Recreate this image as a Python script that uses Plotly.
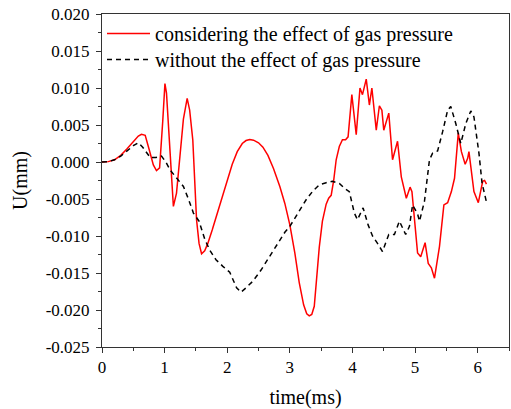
import plotly.graph_objects as go

# time (ms) and displacement (mm)
t_gas = [0, 0.1, 0.2, 0.3, 0.4, 0.5, 0.58, 0.63, 0.69, 0.75, 0.82, 0.87, 0.92, 0.97, 1.005, 1.03,
         1.08, 1.14, 1.19, 1.25, 1.30, 1.36, 1.40, 1.45, 1.51, 1.55, 1.59, 1.64, 1.69, 1.76, 1.83,
         1.91, 2.00, 2.08, 2.16, 2.24, 2.30, 2.36, 2.42, 2.50, 2.57, 2.65, 2.74, 2.84, 2.92, 3.00,
         3.08, 3.15, 3.22, 3.27, 3.31, 3.35, 3.39, 3.43, 3.47, 3.52, 3.58, 3.62, 3.66, 3.70, 3.74,
         3.79, 3.84, 3.89, 3.93, 3.99, 4.06, 4.12, 4.16, 4.22, 4.27, 4.31, 4.38, 4.43, 4.47, 4.50,
         4.58, 4.64, 4.72, 4.78, 4.86, 4.92, 4.95, 5.04, 5.09, 5.16, 5.21, 5.26, 5.31, 5.39, 5.46,
         5.52, 5.58, 5.63, 5.69, 5.74, 5.80, 5.84, 5.86, 5.94, 6.01, 6.08, 6.11, 6.14]
u_gas = [0, 0.05, 0.3, 0.9, 1.8, 2.8, 3.5, 3.75, 3.6, 1.8, -0.4, -1.15, -0.8, 5.5, 10.6, 9.3,
         2.0, -6.0, -4.2, 1.5, 5.8, 8.6, 7.0, 3.0, -7.8, -11.0, -12.4, -12.0, -11.0, -9.2, -7.3,
         -5.0, -2.5, -0.3, 1.4, 2.5, 2.9, 3.05, 2.95, 2.6, 2.0, 0.9, -0.9, -3.3, -5.6, -8.5,
         -12.3, -16.3, -19.3, -20.5, -20.8, -20.6, -19.5, -15.5, -11.5, -8.0, -5.7, -4.9, -4.5, -2.5, 0.3,
         2.1, 3.0, 3.0, 3.4, 9.1, 3.7, 10.0, 9.1, 11.2, 7.7, 10.0, 4.3, 7.6, 7.0, 4.3,
         6.6, 0.3, 2.8, -2.0, -4.9, -3.4, -4.0, -12.3, -12.8, -10.9, -13.7, -14.3, -15.7, -11.4, -5.8,
         -5.5, -4.0, -2.2, 3.9, 1.4, -0.3, 0.5, 1.4, -4.0, -5.5, -2.6, -2.5, -3.0]

t_nogas = [0, 0.1, 0.2, 0.3, 0.4, 0.5, 0.58, 0.65, 0.77, 0.86, 0.95, 1.02, 1.09, 1.2, 1.3, 1.38,
           1.46, 1.55, 1.64, 1.72, 1.82, 1.93, 2.04, 2.15, 2.22, 2.30, 2.41, 2.54, 2.67, 2.80, 2.92,
           3.00, 3.13, 3.26, 3.37, 3.47, 3.58, 3.68, 3.79, 3.88, 3.95, 4.03, 4.08, 4.17, 4.25, 4.32,
           4.40, 4.48, 4.58, 4.67, 4.75, 4.85, 4.91, 4.96, 5.04, 5.07, 5.15, 5.20, 5.23, 5.28, 5.36,
           5.44, 5.52, 5.57, 5.65, 5.73, 5.81, 5.89, 5.94, 6.02, 6.07, 6.14]
u_nogas = [0, 0.05, 0.3, 0.8, 1.5, 2.2, 2.6, 2.0, 0.6, 0.6, 0.8, 0.0, -1.1, -2.2, -3.3, -5.0,
           -6.9, -8.0, -10.4, -11.9, -13.2, -14.1, -14.9, -17.0, -17.6, -17.0, -16.1, -14.6, -12.8, -11.0, -9.5,
           -8.7, -6.8, -5.1, -3.9, -3.1, -2.8, -2.6, -2.9, -3.6, -4.0, -6.9, -7.8, -6.2, -8.5, -10.0,
           -11.0, -12.1, -9.8, -9.8, -8.0, -9.8, -8.7, -5.8, -7.0, -8.0, -5.3, -2.0, 0.3, 1.2, 1.5,
           4.1, 7.0, 7.5, 5.2, 2.5, 5.2, 6.9, 6.1, 1.2, -2.9, -5.4]

y_tickvals = [0.020, 0.015, 0.010, 0.005, 0.000, -0.005, -0.010, -0.015, -0.020, -0.025]
y_ticktext = ["0.020", "0.015", "0.010", "0.005", "0.000", "-0.005", "-0.010", "-0.015", "-0.020", "-0.025"]
x_tickvals = [0, 1, 2, 3, 4, 5, 6]

FONT = "Liberation Serif"

fig = go.Figure()
fig.add_trace(go.Scatter(x=t_gas, y=[v / 1000 for v in u_gas], mode="lines",
                         name="considering the effect of gas pressure", legend="legend",
                         showlegend=True,
                         line=dict(color="#ff0000", width=1.5)))
fig.add_trace(go.Scatter(x=t_nogas, y=[v / 1000 for v in u_nogas], mode="lines",
                         name="without the effect of gas pressure", legend="legend2",
                         showlegend=True,
                         line=dict(color="#000000", width=1.5, dash="5px,4px")))

axis_common = dict(showgrid=False, zeroline=False, showline=True, linecolor="#333333",
                   linewidth=1, mirror=True, ticks="outside", ticklen=5, tickwidth=1,
                   tickcolor="#333333", tickfont=dict(family=FONT, size=17, color="#000"))

fig.update_xaxes(range=[0, 6.5], tickvals=x_tickvals,
                 minor=dict(ticks="outside", ticklen=3, dtick=0.5, tick0=0, tickcolor="#333333"),
                 title=dict(text="time(ms)", font=dict(family=FONT, size=20, color="#000"), standoff=13),
                 **axis_common)
fig.update_yaxes(range=[-0.025, 0.020], tickvals=y_tickvals, ticktext=y_ticktext,
                 ticklabelstandoff=3,
                 minor=dict(ticks="outside", ticklen=3, dtick=0.0025, tick0=0, tickcolor="#333333"),
                 title=dict(text="U(mm)", font=dict(family=FONT, size=20, color="#000"), standoff=12),
                 **axis_common)

leg = dict(xanchor="left", yanchor="top", bgcolor="rgba(0,0,0,0)", itemwidth=43,
           font=dict(family=FONT, size=20, color="#000"))
fig.update_layout(
    width=511, height=409,
    margin=dict(l=102, r=2, t=14, b=62),
    plot_bgcolor="white", paper_bgcolor="white",
    font=dict(family=FONT, color="#000"),
    showlegend=True,
    legend=dict(x=0.0, y=1.0, **leg),
    legend2=dict(x=0.0, y=0.922, **leg),
)

fig.write_html("out.html")
